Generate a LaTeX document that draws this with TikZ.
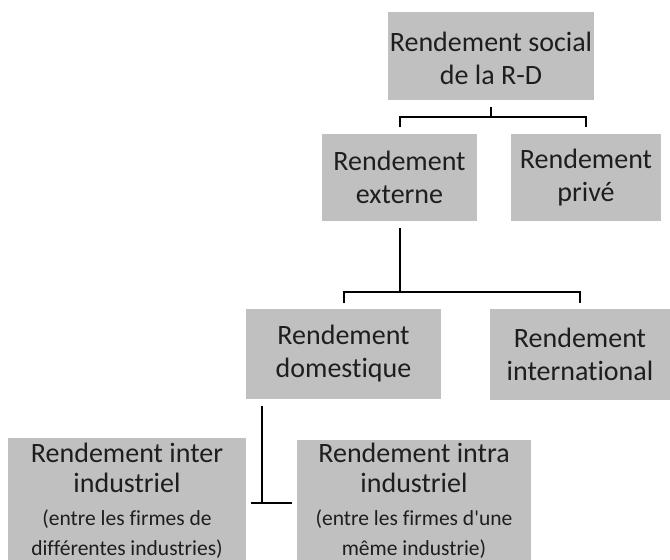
\documentclass[tikz,border=0pt]{standalone}
\usepackage{fontspec}
\setmainfont{Carlito}[Ligatures={NoCommon}]
\usepackage{tikz}
\definecolor{boxgray}{HTML}{C0C0C0}
\definecolor{inkgray}{HTML}{1E1E1E}
\newcommand{\smalltxt}{\fontsize{21.5}{24}\selectfont}

\begin{document}
\begin{tikzpicture}[x=1pt, y=-1pt,
          box/.style={rectangle, fill=boxgray, text=inkgray, inner sep=0pt,
                      font=\fontsize{28}{33}\selectfont, align=center},
          wbox/.style={box, font=\fontsize{28}{30}\selectfont},
          link/.style={line width=2pt, black}
        ]
        \useasboundingbox (0,0) rectangle (670,560);

        \node[box, minimum width=206pt, minimum height=88pt] (S) at (491,56)    {\rule{0pt}{24pt}Rendement social\\de la R-D};
        \node[box, minimum width=155pt, minimum height=87pt] (E) at (399.5,177.5) {Rendement\\externe};
        \node[box, minimum width=150pt, minimum height=87pt] (P) at (586,177.5)   {Rendement\\privé};
        \node[box, minimum width=195pt, minimum height=90pt] (D) at (343.5,354)   {Rendement\\domestique};
        \node[box, minimum width=180pt, minimum height=91pt] (N) at (580,354.5)   {Rendement\\international};
        \node[wbox, minimum width=238pt, minimum height=122pt] (IR) at (127,499)
              {\rule{0pt}{23pt}Rendement inter\\industriel\\[3pt]\smalltxt (entre les firmes de\\\smalltxt différentes industries)};
        \node[wbox, minimum width=234pt, minimum height=120pt] (IA) at (414,500)
              {\rule{0pt}{21pt}Rendement intra\\industriel\\[3pt]\smalltxt (entre les firmes d\textquotesingle une\\\smalltxt même industrie)};

        \coordinate (J) at (262,503);

        \draw[link] ([yshift=-7pt]S.south) -- ++(0,10) -| ([yshift=7pt]E.north);
        \draw[link] ([yshift=-7pt]S.south) -- ++(0,10) -| ([yshift=7pt]P.north);
        \draw[link] ([yshift=-7pt]E.south) -- ++(0,64) -| ([yshift=6pt]D.north);
        \draw[link] ([yshift=-7pt]E.south) -- ++(0,64) -| ([yshift=6pt]N.north);
        \draw[link] ([yshift=-7pt]D.south -| J) -- (J);
        \draw[link] ([xshift=5pt]IR.east |- J) -- ([xshift=-5pt]IA.west |- J);
      \end{tikzpicture}
\end{document}
